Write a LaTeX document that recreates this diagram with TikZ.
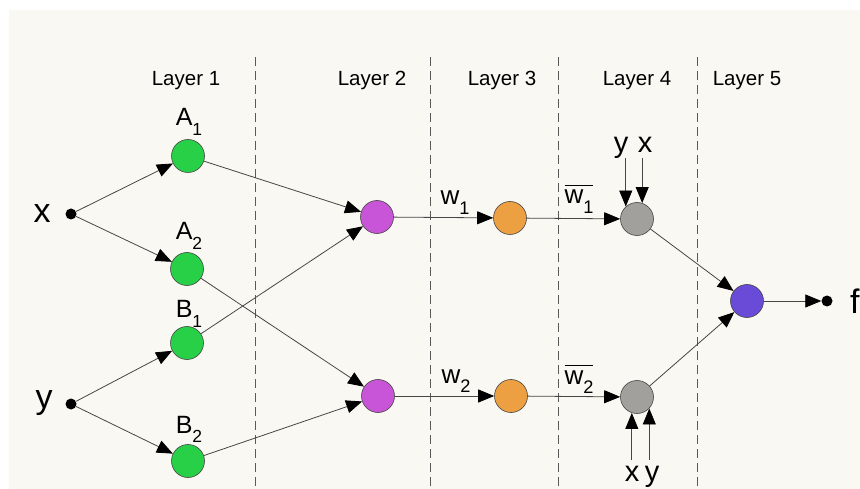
\documentclass[tikz,border=0pt]{standalone}
\usepackage{fontspec}
\setmainfont{Liberation Sans}
\usepackage{graphicx}
\usetikzlibrary{arrows.meta}
\definecolor{bgc}{RGB}{250,248,242}
\definecolor{cgreen}{RGB}{40,208,72}
\definecolor{cpurple}{RGB}{200,85,215}
\definecolor{corange}{RGB}{236,160,65}
\definecolor{cgray}{RGB}{162,160,156}
\definecolor{cblue}{RGB}{105,75,215}
\definecolor{cline}{RGB}{70,70,70}
\newcommand\sbs[1]{\raisebox{-0.38em}{\scalebox{0.7}{#1}}}
\newcommand\obw[1]{$\overline{\hbox{\vphantom{A}w\sbs{#1}}}$}
\tikzset{
  neuron/.style={circle, minimum size=33pt, inner sep=0pt, draw=cline, line width=0.6pt},
  dotnode/.style={circle, fill=black, minimum size=11pt, inner sep=0pt},
  conn/.style={draw=cline, line width=0.8pt, -{Triangle[length=16pt,width=13pt,color=black]}},
  divider/.style={draw=black!65, line width=1pt, dash pattern=on 9pt off 5pt},
  layerlbl/.style={anchor=base, inner sep=0pt, font=\fontsize{20.5}{22}\selectfont},
  nlbl/.style={anchor=base, inner sep=0pt, font=\fontsize{25}{26}\selectfont},
  wlbl/.style={anchor=base, inner sep=0pt, font=\fontsize{26}{28}\selectfont},
  inlbl/.style={anchor=base, inner sep=0pt, font=\fontsize{34}{36}\selectfont},
  smlbl/.style={anchor=base, inner sep=0pt, font=\fontsize{29}{31}\selectfont}
}
\begin{document}
\begin{tikzpicture}[x=1pt,y=-1pt]
\useasboundingbox (0,0) rectangle (860,489);
\fill[white] (0,0) rectangle (860,489);
\fill[bgc] (9,10) rectangle (860,489);

% dividers
\coordinate (d1t) at (255,57); \coordinate (d1b) at (255,489);
\coordinate (d2t) at (430,57); \coordinate (d2b) at (430,489);
\coordinate (d3t) at (558,57); \coordinate (d3b) at (558,489);
\coordinate (d4t) at (697,57); \coordinate (d4b) at (697,489);
\draw[divider] (d1t) -- (d1b);
\draw[divider] (d2t) -- (d2b);
\draw[divider] (d3t) -- (d3b);
\draw[divider] (d4t) -- (d4b);

% layer labels
\node[layerlbl] (L1) at (186,86) {Layer 1};
\node[layerlbl] (L2) at (372,86) {Layer 2};
\node[layerlbl] (L3) at (502,86) {Layer 3};
\node[layerlbl] (L4) at (637,86) {Layer 4};
\node[layerlbl] (L5) at (747,86) {Layer 5};

% inputs
\node[dotnode] (xin) at (71,214) {};
\node[dotnode] (yin) at (71,404) {};
\node[inlbl] (xl) at (42,223) {x};
\node[inlbl] (yl) at (44,408) {y};

% layer 1
\node[neuron, fill=cgreen] (A1) at (188,156) {};
\node[neuron, fill=cgreen] (A2) at (187,269) {};
\node[neuron, fill=cgreen] (B1) at (187,343) {};
\node[neuron, fill=cgreen] (B2) at (188,461) {};
\node[nlbl] (A1l) at (189,126) {A\sbs{1}};
\node[nlbl] (A2l) at (189,240) {A\sbs{2}};
\node[nlbl] (B1l) at (189,318) {B\sbs{1}};
\node[nlbl] (B2l) at (189,433) {B\sbs{2}};

% layer 2
\node[neuron, fill=cpurple] (P1) at (377,217) {};
\node[neuron, fill=cpurple] (P2) at (378,396) {};

% layer 3
\node[neuron, fill=corange] (O1) at (510,218) {};
\node[neuron, fill=corange] (O2) at (511,396) {};

% layer 4
\node[neuron, fill=cgray] (G1) at (637,219) {};
\node[neuron, fill=cgray] (G2) at (637,397) {};

% layer 5
\node[neuron, fill=cblue] (F) at (747,301) {};
\node[dotnode] (fout) at (827,301) {};
\node[inlbl, anchor=base west] (fl) at (850,313) {f};

% weights labels
\node[wlbl] (w1) at (455,205) {w\sbs{1}};
\node[wlbl] (w2) at (456,383) {w\sbs{2}};
\node[wlbl] (wb1) at (579,204) {\obw{1}};
\node[wlbl] (wb2) at (579,384) {\obw{2}};

% connectors layer 0 -> 1
\draw[conn] (xin) -- (A1);
\draw[conn] (xin) -- (A2);
\draw[conn] (yin) -- (B1);
\draw[conn] (yin) -- (B2);

% layer 1 -> 2
\draw[conn] (A1) -- (P1);
\draw[conn] (B1) -- (P1);
\draw[conn] (A2) -- (P2);
\draw[conn] (B2) -- (P2);

% layer 2 -> 3 -> 4
\draw[conn] (P1) -- (O1);
\draw[conn] (P2) -- (O2);
\draw[conn] (O1) -- (G1);
\draw[conn] (O2) -- (G2);

% layer 4 -> 5
\draw[conn] (G1) -- (F);
\draw[conn] (G2) -- (F);
\draw[conn] (F) -- (fout);

% side inputs of layer 4
\coordinate (topy) at (0,158);
\coordinate (boty) at (0,460);
\coordinate (g1a) at (G1.132 |- topy);
\coordinate (g1b) at (G1.72 |- topy);
\coordinate (g2a) at (G2.252 |- boty);
\coordinate (g2b) at (G2.317 |- boty);
\draw[conn] (g1a) -- (G1.132);
\draw[conn] (g1b) -- (G1.72);
\draw[conn] (g2a) -- (G2.252);
\draw[conn] (g2b) -- (G2.317);
\node[smlbl] (g1yl) at (621,153) {y};
\node[smlbl] (g1xl) at (645,153) {x};
\node[smlbl] (g2xl) at (632,481) {x};
\node[smlbl] (g2yl) at (652,481) {y};
\end{tikzpicture}
\end{document}
